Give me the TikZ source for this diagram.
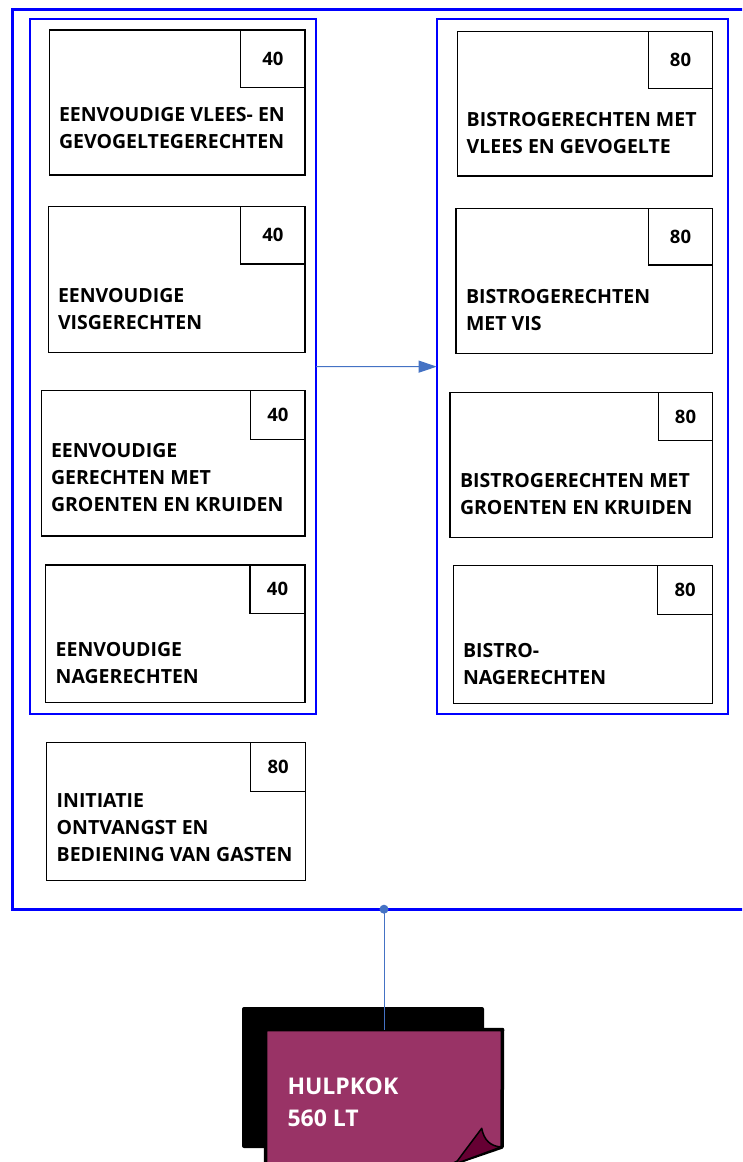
\documentclass[tikz,border=0pt]{standalone}
\usepackage{fontspec}
\setmainfont{Open Sans}
\usetikzlibrary{arrows.meta}
\definecolor{frameblue}{RGB}{0,0,255}
\definecolor{linkblue}{RGB}{68,114,196}
\definecolor{plum}{RGB}{153,51,102}
\definecolor{darkplum}{RGB}{102,0,51}
\tikzset{
  coursebox/.style={draw=black, line width=1.3pt, inner sep=0pt, outer sep=0pt, anchor=north west},
  numbox/.style={draw=black, line width=1.3pt, inner sep=0pt, outer sep=0pt, anchor=north east,
    font=\bfseries\fontsize{18.5}{20}\selectfont},
  coursetext/.style={anchor=west, align=left, inner sep=0pt, outer sep=0pt,
    font=\bfseries\fontsize{19.5}{27}\selectfont},
  groupframe/.style={draw=frameblue, line width=2pt, inner sep=0pt, outer sep=0pt, anchor=north west},
  outerframe/.style={draw=frameblue, line width=3pt, inner sep=0pt, outer sep=0pt, anchor=north west},
  link/.style={draw=linkblue, line width=1pt},
  doctext/.style={anchor=west, align=left, inner sep=0pt, text=white,
    font=\bfseries\fontsize{23}{32}\selectfont},
}
\begin{document}
\begin{tikzpicture}[x=1pt,y=-1pt]
\useasboundingbox (0,0) rectangle (742,1162);
\clip (0,0) rectangle (742,1162);

% frames
\node[outerframe, minimum width=780pt, minimum height=899.5pt] (outer) at (12.5,9.7) {};
\node[groupframe, minimum width=285.7pt, minimum height=695.6pt] (lf) at (30.3,18.7) {};
\node[groupframe, minimum width=291.6pt, minimum height=695.3pt] (rf) at (436.7,19) {};

% left column
\node[coursebox, minimum width=255.7pt, minimum height=145pt] (l1) at (49.3,30) {};
\node[numbox, minimum width=64.3pt, minimum height=57.3pt] (l1n) at (l1.north east) {40};
\node[coursetext] (l1t) at (59,128.5) {EENVOUDIGE VLEES- EN\\GEVOGELTEGERECHTEN};

\node[coursebox, minimum width=256.7pt, minimum height=146pt] (l2) at (48.3,206.7) {};
\node[numbox, minimum width=64.3pt, minimum height=57.3pt] (l2n) at (l2.north east) {40};
\node[coursetext] (l2t) at (58,309.5) {EENVOUDIGE\\VISGERECHTEN};

\node[coursebox, minimum width=263.3pt, minimum height=145.3pt] (l3) at (41.7,390.7) {};
\node[numbox, minimum width=54.3pt, minimum height=48.6pt] (l3n) at (l3.north east) {40};
\node[coursetext] (l3t) at (51,478) {EENVOUDIGE\\GERECHTEN MET\\GROENTEN EN KRUIDEN};

\node[coursebox, minimum width=259.3pt, minimum height=137.7pt] (l4) at (45.7,565) {};
\node[numbox, minimum width=55pt, minimum height=48.3pt] (l4n) at (l4.north east) {40};
\node[coursetext] (l4t) at (55.7,663.5) {EENVOUDIGE\\NAGERECHTEN};

\node[coursebox, minimum width=259pt, minimum height=138pt] (l5) at (46.7,742.7) {};
\node[numbox, minimum width=55pt, minimum height=49pt] (l5n) at (l5.north east) {80};
\node[coursetext] (l5t) at (56.7,828) {INITIATIE\\ONTVANGST EN\\BEDIENING VAN GASTEN};

% right column
\node[coursebox, minimum width=255.4pt, minimum height=144.3pt] (r1) at (457.3,31.7) {};
\node[numbox, minimum width=64.4pt, minimum height=56.6pt] (r1n) at (r1.north east) {80};
\node[coursetext] (r1t) at (466.7,133) {BISTROGERECHTEN MET\\VLEES EN GEVOGELTE};

\node[coursebox, minimum width=256.7pt, minimum height=145pt] (r2) at (456,208.3) {};
\node[numbox, minimum width=64.4pt, minimum height=56.7pt] (r2n) at (r2.north east) {80};
\node[coursetext] (r2t) at (466,310) {BISTROGERECHTEN\\MET VIS};

\node[coursebox, minimum width=262.7pt, minimum height=145pt] (r3) at (450,392.3) {};
\node[numbox, minimum width=54.4pt, minimum height=48.4pt] (r3n) at (r3.north east) {80};
\node[coursetext] (r3t) at (460,494.5) {BISTROGERECHTEN MET\\GROENTEN EN KRUIDEN};

\node[coursebox, minimum width=259.4pt, minimum height=137.6pt] (r4) at (453.3,565.7) {};
\node[numbox, minimum width=55pt, minimum height=48.6pt] (r4n) at (r4.north east) {80};
\node[coursetext] (r4t) at (463,664) {BISTRO-\\NAGERECHTEN};

% arrow between groups
\draw[link, -{Triangle[length=18pt,width=12pt]}] (lf.east) -- (rf.west);

% document shape
\fill[black, rounded corners=2pt] (242,1007) rectangle (484,1148);
\node[anchor=north west, minimum width=237pt, minimum height=140pt, inner sep=0pt, outer sep=0pt] (page) at (265.5,1029.5) {};
\filldraw[fill=plum, draw=black, line width=3.5pt, line join=round]
  (page.north west) -- (page.north east) -- (502,1147) -- (456.7,1162.5) -- (440,1170) -- (265.5,1170) -- cycle;
\filldraw[fill=darkplum, draw=black, line width=1.5pt, line join=round]
  (455,1164) -- (481.7,1128.3) .. controls (484,1140) and (490,1146) .. (501,1147) -- cycle;
\node[doctext] (doc) at (287.3,1102.7) {HULPKOK\\560 LT};

% connector from outer frame to document
\coordinate (hub) at (page.north |- outer.south);
\draw[link] (hub) -- (page.north);
\fill[linkblue] (hub) circle (4.5pt);
\end{tikzpicture}
\end{document}
